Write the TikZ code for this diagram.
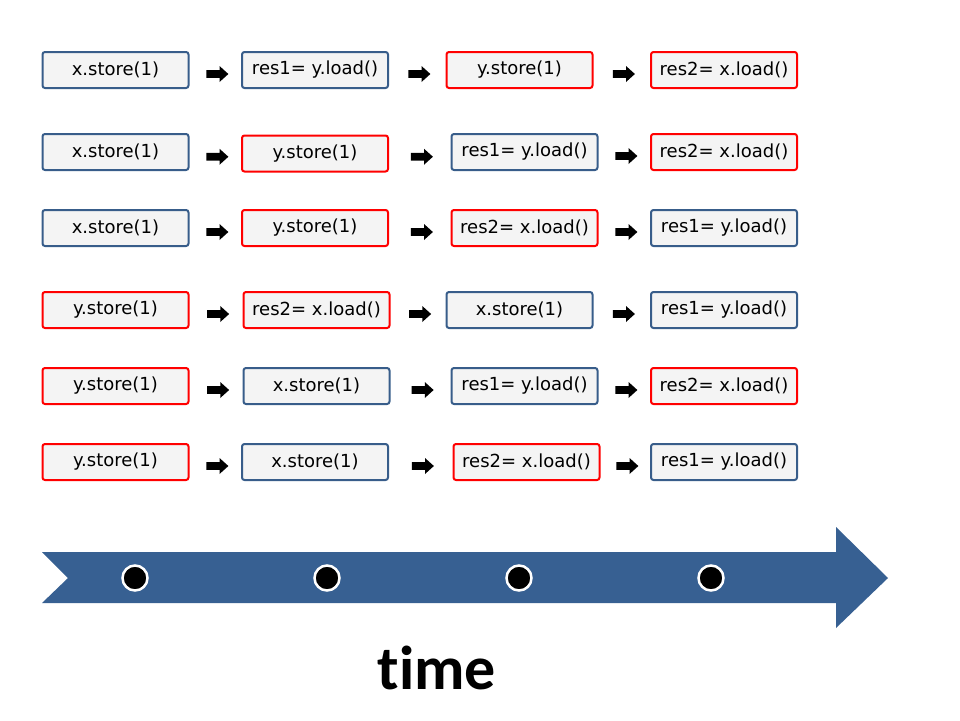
\documentclass[tikz,border=0pt]{standalone}
\usepackage{fontspec}
\setmainfont{DejaVu Sans}
\newfontfamily\timefont[Ligatures=NoCommon]{Carlito}
\usetikzlibrary{shapes.arrows, calc}

\definecolor{threadx}{RGB}{56,93,138}
\definecolor{thready}{RGB}{255,0,0}
\definecolor{boxfill}{RGB}{244,244,244}
\definecolor{timeblue}{RGB}{55,96,146}

\begin{document}
\begin{tikzpicture}[x=1pt, y=-1pt,
        op/.style={rectangle, rounded corners=2.5pt, line width=2pt, fill=boxfill,
            minimum width=146pt, minimum height=36pt, inner sep=1pt, font=\fontsize{18}{21}\selectfont},
        xop/.style={op, draw=threadx},
        yop/.style={op, draw=thready},
        step arrow/.style={single arrow, fill=black, minimum width=16pt, minimum height=22pt,
            single arrow head extend=4pt, single arrow tip angle=84, inner xsep=0pt, inner ysep=3.5pt,
            text height=0pt, text depth=0pt, yshift=-4pt},
        dot/.style={circle, fill=black, draw=white, line width=2.5pt, minimum size=25pt, inner sep=0pt}]

    \useasboundingbox (0,0) rectangle (960,720);

    % order 1
    \node[xop] (a1) at (115.5,70) {x.store(1)};
    \node[xop] (a2) at (315,70) {res1= y.load()};
    \node[yop] (a3) at (519.5,70) {y.store(1)};
    \node[yop] (a4) at (724,70) {res2= x.load()};

    % order 2
    \node[xop] (b1) at (115.5,152) {x.store(1)};
    \node[yop] (b2) at (315,153.5) {y.store(1)};
    \node[xop] (b3) at (524.5,152) {res1= y.load()};
    \node[yop] (b4) at (724,152) {res2= x.load()};

    % order 3
    \node[xop] (c1) at (115.5,228) {x.store(1)};
    \node[yop] (c2) at (315,228) {y.store(1)};
    \node[yop] (c3) at (524.5,228) {res2= x.load()};
    \node[xop] (c4) at (724,228) {res1= y.load()};

    % order 4
    \node[yop] (d1) at (115.5,310) {y.store(1)};
    \node[yop] (d2) at (316.5,310) {res2= x.load()};
    \node[xop] (d3) at (519.5,310) {x.store(1)};
    \node[xop] (d4) at (724,310) {res1= y.load()};

    % order 5
    \node[yop] (e1) at (115.5,386) {y.store(1)};
    \node[xop] (e2) at (316.5,386) {x.store(1)};
    \node[xop] (e3) at (524.5,386) {res1= y.load()};
    \node[yop] (e4) at (724,386) {res2= x.load()};

    % order 6
    \node[yop] (f1) at (115.5,462) {y.store(1)};
    \node[xop] (f2) at (315,462) {x.store(1)};
    \node[yop] (f3) at (526.5,462) {res2= x.load()};
    \node[xop] (f4) at (724,462) {res1= y.load()};

    % steps between operations
    \path (a1) -- node[step arrow] {} (a2) -- node[step arrow] {} (a3) -- node[step arrow] {} (a4);
    \path (b1) -- node[step arrow] {} (b2) -- node[step arrow] {} (b3) -- node[step arrow] {} (b4);
    \path (c1) -- node[step arrow] {} (c2) -- node[step arrow] {} (c3) -- node[step arrow] {} (c4);
    \path (d1) -- node[step arrow] {} (d2) -- node[step arrow] {} (d3) -- node[step arrow] {} (d4);
    \path (e1) -- node[step arrow] {} (e2) -- node[step arrow] {} (e3) -- node[step arrow] {} (e4);
    \path (f1) -- node[step arrow] {} (f2) -- node[step arrow] {} (f3) -- node[step arrow] {} (f4);

    % time axis
    \fill[timeblue] (42,552) -- (836,552) -- (836,527) -- (888,578) -- (836,628)
        -- (836,603) -- (42,603) -- (68,578) -- cycle;
    \node[dot] (t1) at (135,578) {};
    \node[dot] (t2) at (327,578) {};
    \node[dot] (t3) at (519,578) {};
    \node[dot] (t4) at (711,578) {};
    \node[font=\timefont\bfseries\fontsize{62}{70}\selectfont] (time) at (437,668) {time};

\end{tikzpicture}
\end{document}
